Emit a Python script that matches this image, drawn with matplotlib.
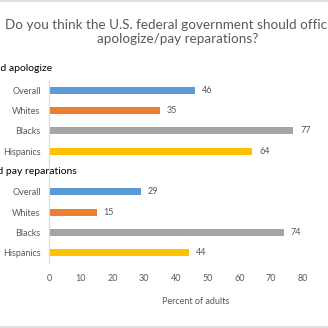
import matplotlib
matplotlib.use("Agg")
import matplotlib.pyplot as plt

groups = ["Should apologize", "Should pay reparations"]
categories = ["Overall", "Whites", "Blacks", "Hispanics"]
apologize = [46, 35, 77, 64]
reparations = [29, 15, 74, 44]
colors = ["#5B9BD5", "#ED7D31", "#A5A5A5", "#FFC000"]
xticks = [0, 10, 20, 30, 40, 50, 60, 70, 80]
title = "Do you think the U.S. federal government should officially\napologize/pay reparations?"
xlabel = "Percent of adults"

W = H = 328
fig = plt.figure(figsize=(3.28, 3.28), dpi=100)
plt.rcParams['font.family'] = ['Lato', 'DejaVu Sans']

def px(x, y):
    return x / W, 1 - y / H

left, right, top, bottom = 49, 303, 80, 263
ax = fig.add_axes([left / W, 1 - bottom / H, (right - left) / W, (bottom - top) / H])
ax.set_xlim(0, 80)
ax.set_ylim(8.5, -0.5)

tc = "#595959"
rows_ap = [0, 1, 2, 3]
rows_rep = [5, 6, 7, 8]
for rows, vals in [(rows_ap, apologize), (rows_rep, reparations)]:
    ax.barh(rows, vals, height=0.36, color=colors)
    for r, v in zip(rows, vals):
        ax.annotate(str(v), (v, r), xytext=(5, 0), textcoords="offset points",
                    va="center", ha="left", fontsize=6.5, color=tc)

ax.set_yticks(rows_ap + rows_rep)
ax.set_yticklabels(categories + categories, fontsize=6.5, color=tc)
ax.set_xticks(xticks)
ax.set_xticklabels([str(t) for t in xticks], fontsize=6.5, color=tc)
ax.tick_params(axis='x', length=0, pad=8)
ax.tick_params(axis='y', length=0, pad=6)
for s in ["top", "right", "bottom"]:
    ax.spines[s].set_visible(False)
ax.spines["left"].set_color("#D9D9D9")

# group headers (left part cut off by the figure edge, as in the reference)
header_right_px = [52, 77]
for g, row, rpx in zip(groups, [-1.05, 3.98], header_right_px):
    ax.text((rpx - left) / ((right - left) / 80), row, g, ha="right", va="center",
            fontsize=7.5, color="#000000", clip_on=False)

fig.text(*px(196, 302), xlabel, ha="center", va="center", fontsize=6.5, color=tc)
fig.text(*px(178, 32), title, ha="center", va="center", fontsize=9.7, color=tc,
         linespacing=1.2)

# chart border lines
fig.add_artist(plt.Line2D([0, 1], [1 - 0.5 / H, 1 - 0.5 / H], color="#D9D9D9", lw=1.2))
fig.add_artist(plt.Line2D([0, 1], [1 - 326.5 / H, 1 - 326.5 / H], color="#D9D9D9", lw=1.2))

fig.savefig("out.png", dpi=100)
